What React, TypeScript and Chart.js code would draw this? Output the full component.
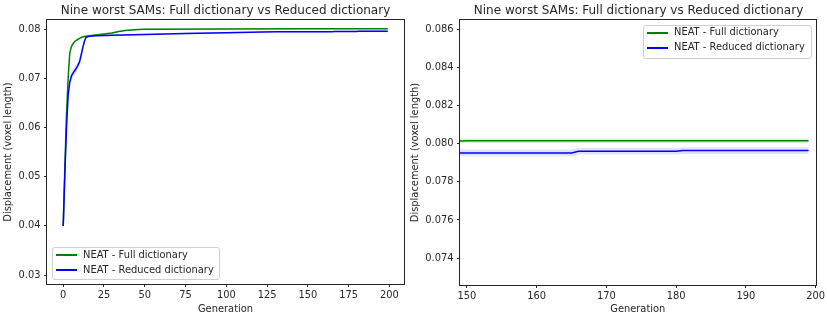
import React, { useEffect, useRef } from "react";
import { Chart, registerables } from "chart.js";

Chart.register(...registerables);

const TITLE = "Nine worst SAMs: Full dictionary vs Reduced dictionary";
const Y_LABEL = "Displacement (voxel length)";
const X_LABEL = "Generation";
const SERIES_NAMES = ["NEAT - Full dictionary", "NEAT - Reduced dictionary"];

// NEAT - Full dictionary (mean and spread, read at knot generations)
const fullGen = [0, 1, 2, 3, 4, 5, 6, 7, 8, 10, 12, 14, 16, 20, 25, 30, 34, 38, 42, 46, 50, 100, 150, 199];
const fullMean = [0.04, 0.052, 0.0625, 0.07, 0.0752, 0.0765, 0.0771, 0.0775, 0.0778, 0.0782, 0.0785, 0.0786, 0.0787, 0.0789, 0.0791, 0.0793, 0.0796, 0.0798, 0.0799, 0.08, 0.08005, 0.08012, 0.08015, 0.08015];
const fullSpread = [0.0002, 0.0008, 0.0009, 0.0008, 0.0006, 0.0004, 0.0003, 0.0003, 0.0002, 0.0002, 0.00015, 0.00013, 0.00012, 0.00012, 0.00012, 0.00012, 0.00012, 0.00012, 0.00012, 0.00012, 0.00012, 0.00012, 0.00012, 0.00012];

// NEAT - Reduced dictionary
const reducedGen = [0, 1, 2, 3, 4, 5, 6, 7, 8, 9, 10, 11, 12, 13, 14, 16, 20, 30, 50, 75, 100, 115, 130, 165, 166, 180, 181, 199];
const reducedMean = [0.04, 0.0505, 0.06, 0.0665, 0.0692, 0.0705, 0.0711, 0.0716, 0.0721, 0.0727, 0.0734, 0.0748, 0.0763, 0.0776, 0.0784, 0.0786, 0.0787, 0.0788, 0.079, 0.0792, 0.07935, 0.07944, 0.07952, 0.07952, 0.07961, 0.07961, 0.07964, 0.07964];
const reducedSpread = [0.0002, 0.0006, 0.0008, 0.0008, 0.0008, 0.0009, 0.0009, 0.0009, 0.0008, 0.0007, 0.0007, 0.0008, 0.0007, 0.0004, 0.0002, 0.00018, 0.00018, 0.00018, 0.00018, 0.00018, 0.00018, 0.00018, 0.00018, 0.00018, 0.00018, 0.00018, 0.00018, 0.00018];

const leftXTicks = [0, 25, 50, 75, 100, 125, 150, 175, 200];
const leftYTicks = [0.03, 0.04, 0.05, 0.06, 0.07, 0.08];
const rightXTicks = [150, 160, 170, 180, 190, 200];
const rightYTicks = [0.074, 0.076, 0.078, 0.08, 0.082, 0.084, 0.086];

const GREEN = "#008000";
const BLUE = "#0000ff";
const INK = "#262626";
const FONT = "'DejaVu Sans', sans-serif";
const SMALL = 9.9;
const LARGE = 12;

const pts = (xs: number[], ys: number[]) => xs.map((x, i) => ({ x, y: ys[i] }));

const framePlugin = {
  id: "frame",
  afterDatasetsDraw(chart: any) {
    const { ctx, chartArea: a } = chart;
    ctx.save();
    ctx.strokeStyle = INK;
    ctx.lineWidth = 1;
    const l = Math.round(a.left) - 0.5;
    const t = Math.round(a.top) - 0.5;
    const r = Math.round(a.right) + 0.5;
    const b = Math.round(a.bottom) + 0.5;
    ctx.strokeRect(l, t, r - l, b - t);
    ctx.restore();
  },
};

function buildDatasets() {
  const band = (xs: number[], m: number[], s: number[], sign: number) =>
    xs.map((x, i) => ({ x, y: m[i] + sign * s[i] }));
  return [
    { data: pts(reducedGen, reducedMean), borderColor: BLUE, borderWidth: 1.5, pointRadius: 0, fill: false },
    { data: pts(fullGen, fullMean), borderColor: GREEN, borderWidth: 1.5, pointRadius: 0, fill: false },
    { data: band(fullGen, fullMean, fullSpread, 1), borderWidth: 0, borderColor: "rgba(0,0,0,0)", pointRadius: 0, fill: false },
    { data: band(fullGen, fullMean, fullSpread, -1), borderWidth: 0, borderColor: "rgba(0,0,0,0)", pointRadius: 0, fill: "-1", backgroundColor: "rgba(0,128,0,0.13)" },
    { data: band(reducedGen, reducedMean, reducedSpread, 1), borderWidth: 0, borderColor: "rgba(0,0,0,0)", pointRadius: 0, fill: false },
    { data: band(reducedGen, reducedMean, reducedSpread, -1), borderWidth: 0, borderColor: "rgba(0,0,0,0)", pointRadius: 0, fill: "-1", backgroundColor: "rgba(0,0,255,0.11)" },
  ];
}

type Cfg = {
  xMin: number; xMax: number; yMin: number; yMax: number;
  xTicks: number[]; yTicks: number[]; yDigits: number;
  yWidth: number; xHeight: number; padRight: number; padTop: number; yTitlePad: number;
};

function makeOptions(c: Cfg): any {
  const tickFont = { family: FONT, size: SMALL };
  return {
    responsive: false,
    animation: false,
    maintainAspectRatio: false,
    layout: { padding: { left: 0, right: c.padRight, top: c.padTop, bottom: 0 } },
    plugins: { legend: { display: false }, title: { display: false }, tooltip: { enabled: false } },
    elements: { line: { tension: 0 } },
    scales: {
      x: {
        type: "linear",
        min: c.xMin,
        max: c.xMax,
        afterBuildTicks: (s: any) => { s.ticks = c.xTicks.map((v) => ({ value: v })); },
        afterFit: (s: any) => { s.height = c.xHeight; },
        ticks: { autoSkip: false, maxRotation: 0, padding: 2, color: INK, font: tickFont, callback: (v: number) => String(v) },
        grid: { drawOnChartArea: false, drawTicks: true, tickLength: 3, color: INK, lineWidth: 1 },
        border: { display: false },
        title: { display: true, text: X_LABEL, color: INK, font: tickFont, padding: { top: 0, bottom: 0.5 } },
      },
      y: {
        type: "linear",
        min: c.yMin,
        max: c.yMax,
        afterBuildTicks: (s: any) => { s.ticks = c.yTicks.map((v) => ({ value: v })); },
        afterFit: (s: any) => { s.width = c.yWidth; },
        ticks: { autoSkip: false, padding: 3.5, color: INK, font: tickFont, callback: (v: number) => v.toFixed(c.yDigits) },
        grid: { drawOnChartArea: false, drawTicks: true, tickLength: 3, color: INK, lineWidth: 1 },
        border: { display: false },
        title: { display: true, text: Y_LABEL, color: INK, font: tickFont, padding: { top: c.yTitlePad, bottom: 0 } },
      },
    },
  };
}

function Panel({ left, width, cfg }: { left: number; width: number; cfg: Cfg }) {
  const ref = useRef<HTMLCanvasElement | null>(null);
  useEffect(() => {
    if (!ref.current) return;
    const chart = new Chart(ref.current, {
      type: "line",
      data: { datasets: buildDatasets() as any },
      options: makeOptions(cfg),
      plugins: [framePlugin],
    });
    return () => chart.destroy();
  }, []);
  return (
    <canvas
      ref={ref}
      width={width}
      height={316}
      style={{ position: "absolute", left, top: 0, width, height: 316 }}
    />
  );
}

function Legend({ left, top, width, height, rows }: { left: number; top: number; width: number; height: number; rows: number[] }) {
  const colors = [GREEN, BLUE];
  return (
    <>
      <div
        style={{
          position: "absolute", left, top, width, height, boxSizing: "border-box",
          border: "1px solid #d0d0d0", borderRadius: 3, background: "rgba(255,255,255,0.8)",
        }}
      />
      {SERIES_NAMES.map((name, i) => (
        <React.Fragment key={name}>
          <div style={{ position: "absolute", left: left + 4, top: Math.round(rows[i]) - 1, width: 21, height: 2, background: colors[i] }} />
          <div
            style={{
              position: "absolute", left: left + 31, top: rows[i] - 6.5, fontFamily: FONT, fontSize: SMALL,
              lineHeight: "12px", color: INK, whiteSpace: "nowrap",
            }}
          >
            {name}
          </div>
        </React.Fragment>
      ))}
    </>
  );
}

function Title({ left, width }: { left: number; width: number }) {
  return (
    <div
      style={{
        position: "absolute", left, width, top: 2.5, textAlign: "center", fontFamily: FONT,
        fontSize: LARGE, lineHeight: "14px", color: INK, whiteSpace: "nowrap",
      }}
    >
      {TITLE}
    </div>
  );
}

const leftCfg: Cfg = {
  xMin: -9.95, xMax: 208.95, yMin: 0.02817, yMax: 0.08193,
  xTicks: leftXTicks, yTicks: leftYTicks, yDigits: 2,
  yWidth: 47, xHeight: 32, padRight: 4, padTop: 20, yTitlePad: 2,
};

const rightCfg: Cfg = {
  xMin: 149, xMax: 200, yMin: 0.07259, yMax: 0.08649,
  xTicks: rightXTicks, yTicks: rightYTicks, yDigits: 3,
  yWidth: 52, xHeight: 31, padRight: 10, padTop: 20, yTitlePad: 1,
};

export default function App() {
  return (
    <div style={{ position: "fixed", left: 0, top: 0, width: 827, height: 316, background: "#fff", overflow: "hidden" }}>
      <Panel left={0} width={408} cfg={leftCfg} />
      <Panel left={408} width={419} cfg={rightCfg} />
      <Title left={47} width={357} />
      <Title left={460} width={357} />
      <Legend left={52} top={247} width={168} height={33} rows={[255.3, 270.3]} />
      <Legend left={643} top={25} width={169} height={34} rows={[32.5, 47.8]} />
    </div>
  );
}
